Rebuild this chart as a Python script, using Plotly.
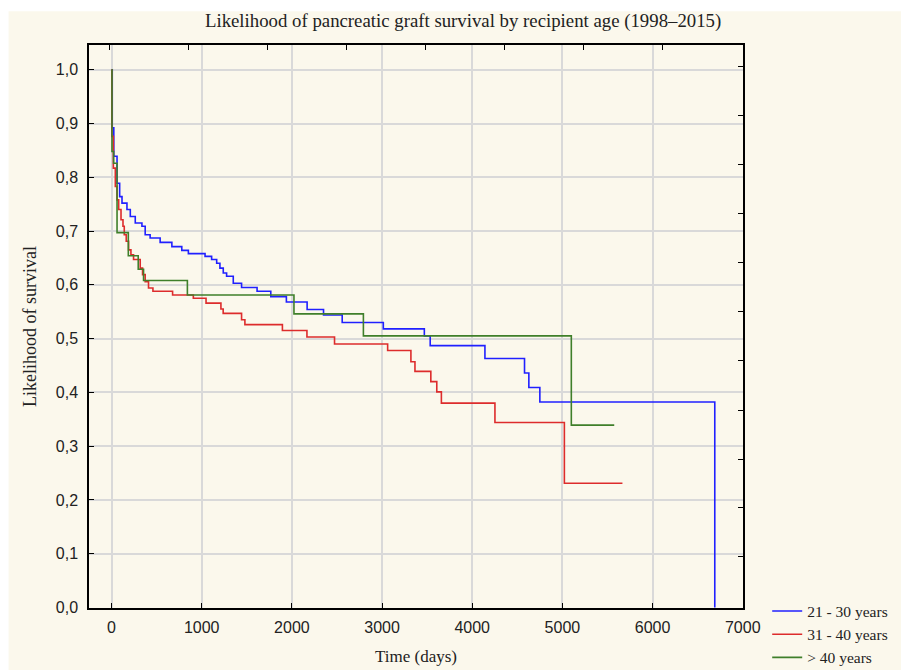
import plotly.graph_objects as go

# Kaplan-Meier step estimates: days since transplant and survival probability after each event
days_21_30 = [0, 8, 25, 61, 90, 116, 171, 208, 263, 337, 373, 428, 539, 669, 779, 852, 1037,
              1110, 1166, 1202, 1239, 1276, 1350, 1442, 1614, 1766, 1939, 2169, 2351, 2558,
              3014, 3469, 3534, 4141, 4580, 4628, 4750, 6690]
surv_21_30 = [1.0, 0.892, 0.839, 0.789, 0.764, 0.752, 0.740, 0.727, 0.715, 0.709, 0.693, 0.687,
              0.679, 0.671, 0.664, 0.658, 0.653, 0.647, 0.640, 0.631, 0.622, 0.616, 0.603, 0.595,
              0.588, 0.578, 0.568, 0.554, 0.544, 0.530, 0.518, 0.505, 0.487, 0.463, 0.436, 0.409,
              0.382, 0.0]

days_31_40 = [0, 3, 20, 42, 61, 79, 105, 127, 141, 163, 189, 215, 244, 318, 344, 373, 410, 459,
              677, 907, 1048, 1213, 1238, 1442, 1479, 1895, 2167, 2473, 3062, 3320, 3365, 3541,
              3607, 3658, 4252, 5022, 5666]
surv_31_40 = [1.0, 0.876, 0.817, 0.783, 0.758, 0.740, 0.721, 0.709, 0.693, 0.681, 0.665, 0.656,
              0.647, 0.631, 0.619, 0.606, 0.594, 0.588, 0.581, 0.575, 0.566, 0.555, 0.547, 0.535,
              0.526, 0.515, 0.503, 0.490, 0.478, 0.457, 0.439, 0.420, 0.401, 0.380, 0.344, 0.231,
              0.231]

days_over_40 = [0, 5, 23, 61, 186, 296, 355, 841, 2023, 2793, 5099, 5575]
surv_over_40 = [1.0, 0.848, 0.826, 0.697, 0.654, 0.629, 0.608, 0.581, 0.546, 0.505, 0.339, 0.339]

group_names = ["21 - 30 years", "31 - 40 years", "> 40 years"]
group_colors = ["#2020ff", "#dd2c2c", "#3f7f2a"]

x_ticks = [0, 1000, 2000, 3000, 4000, 5000, 6000, 7000]
y_ticks = [round(0.1 * i, 1) for i in range(11)]

# secondary (top / right) frame ticks, drawn on their own scale like the original plot frame
top_ticks = [-19, 857, 1734, 2610, 3486, 4362, 5239, 6115]
right_ticks = [0.094, 0.185, 0.276, 0.367, 0.459, 0.550, 0.641, 0.732, 0.823, 0.914, 1.006]

X_RANGE = [-250, 7003]
Y_RANGE = [-0.001, 1.046]

serif = "Liberation Serif, Times New Roman, serif"
sans = "Liberation Sans, Arial, sans-serif"

fig = go.Figure()
for name, color, xs, ys in zip(group_names, group_colors,
                               [days_21_30, days_31_40, days_over_40],
                               [surv_21_30, surv_31_40, surv_over_40]):
    fig.add_trace(go.Scatter(x=xs, y=ys, mode="lines", name=name,
                             line=dict(color=color, width=1.6, shape="hv")))

# carrier for the top/right tick frame
fig.add_trace(go.Scatter(x=[None], y=[None], xaxis="x2", yaxis="y2",
                         showlegend=False, hoverinfo="skip"))

axis_common = dict(showline=True, linecolor="black", linewidth=1.5, mirror=True,
                   ticks="inside", ticklen=5, tickcolor="black", tickwidth=1,
                   showgrid=True, gridcolor="#d9d9d9", gridwidth=1.5, zeroline=False,
                   tickfont=dict(family=sans, size=16, color="#222222"))

fig.update_layout(
    width=901, height=670,
    margin=dict(l=89, r=158, t=45, b=62, autoexpand=False),
    paper_bgcolor="white",
    plot_bgcolor="white",
    separators=", ",
    title=dict(text="Likelihood of pancreatic graft survival by recipient age (1998–2015)",
               x=0.514, xref="container", xanchor="center",
               y=0.969, yref="container", yanchor="middle",
               font=dict(family=serif, size=18.8, color="#222222")),
    xaxis=dict(range=X_RANGE, tickvals=x_ticks, ticklabelstandoff=4,
               title=dict(text="Time (days)", standoff=15,
                          font=dict(family=serif, size=17, color="#222222")),
               **axis_common),
    yaxis=dict(range=Y_RANGE, tickvals=y_ticks, tickformat=".1f", ticklabelstandoff=6,
               title=dict(text="Likelihood of survival", standoff=14,
                          font=dict(family=serif, size=18, color="#222222")),
               **axis_common),
    xaxis2=dict(range=X_RANGE, overlaying="x", side="top", tickvals=top_ticks,
                ticks="inside", ticklen=5, tickcolor="black", showticklabels=False,
                showgrid=False, zeroline=False, showline=False),
    yaxis2=dict(range=Y_RANGE, overlaying="y", side="right", tickvals=right_ticks,
                ticks="inside", ticklen=5, tickcolor="black", showticklabels=False,
                showgrid=False, zeroline=False, showline=False),
    legend=dict(x=1.037, y=0.024, xanchor="left", yanchor="top",
                bgcolor="rgba(0,0,0,0)", tracegroupgap=0, itemwidth=30,
                font=dict(family=serif, size=15.5, color="#222222")),
    shapes=[dict(type="rect", xref="paper", yref="paper", layer="below",
                 x0=-0.123, x1=1.25, y0=-0.12, y1=1.06,
                 fillcolor="#fbf8ec", line=dict(width=0))],
)

fig.write_html("out.html")
